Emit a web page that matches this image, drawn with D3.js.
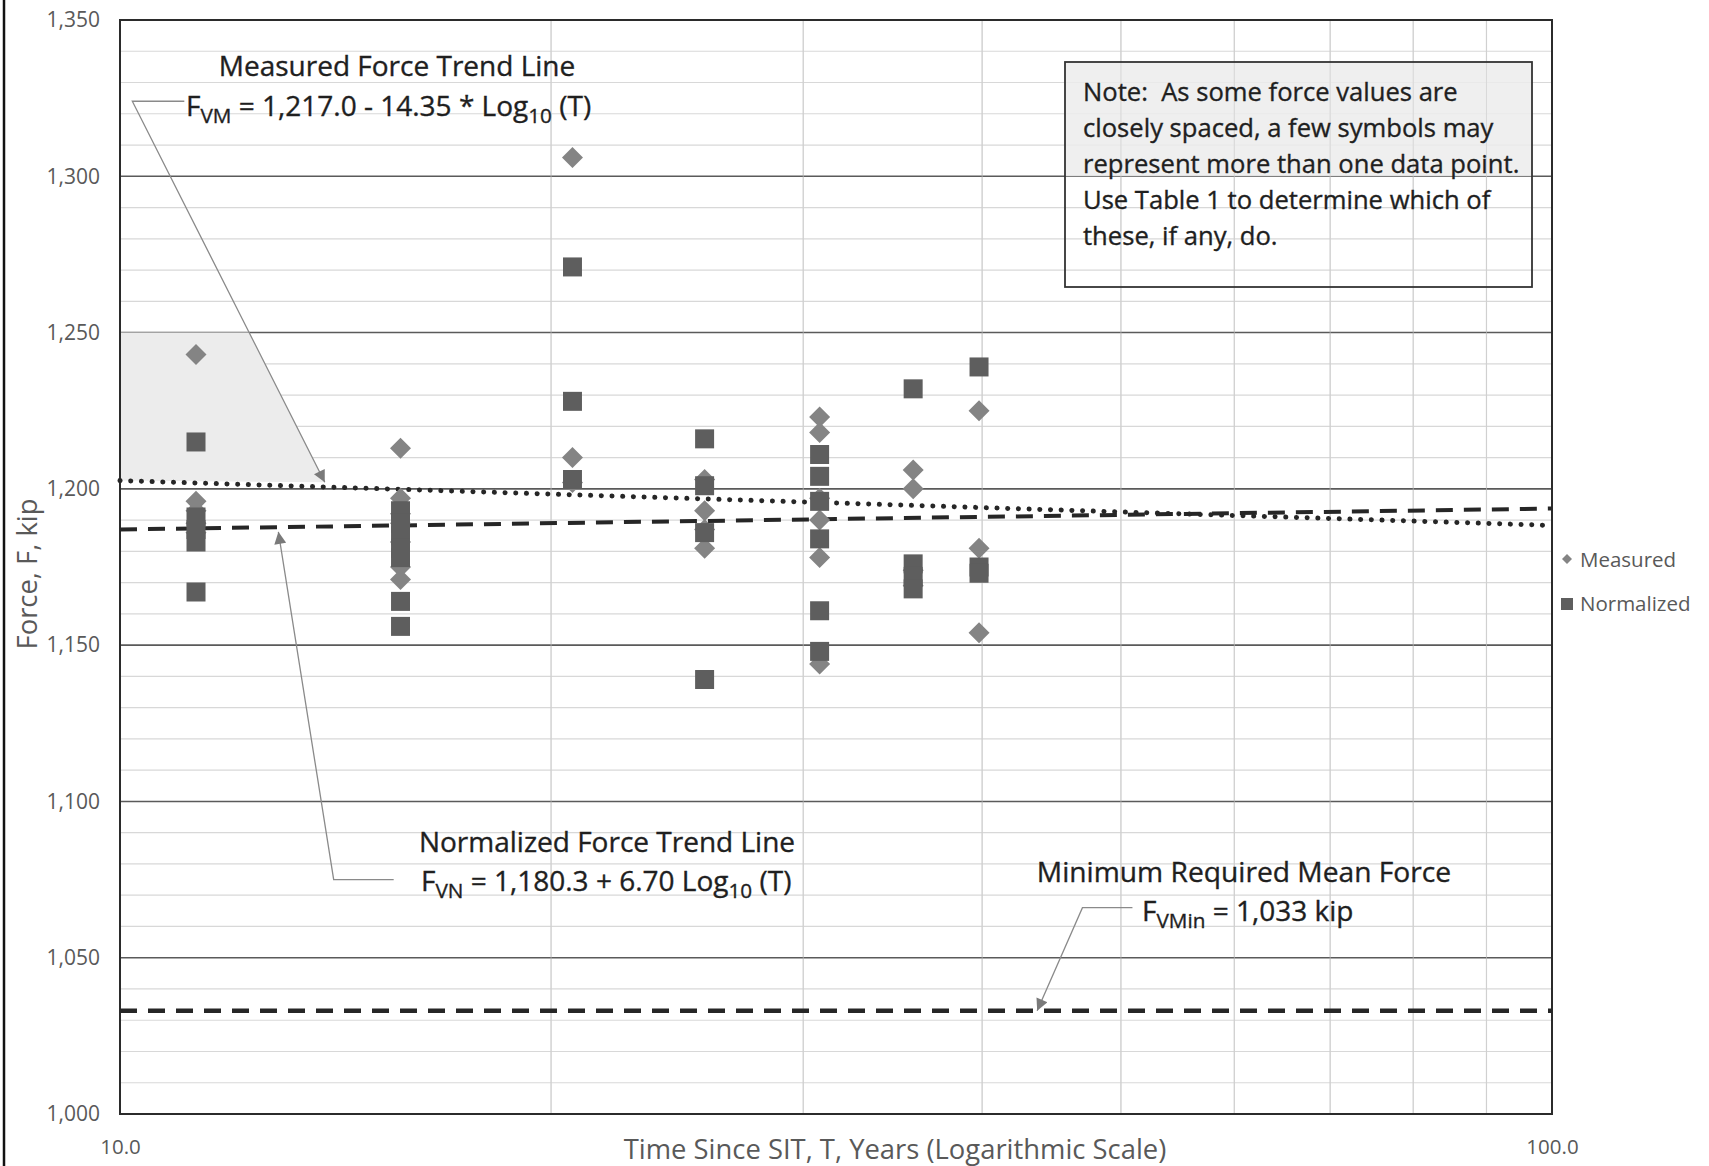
<!DOCTYPE html>
<html>
<head>
<meta charset="utf-8">
<script src="https://cdn.jsdelivr.net/npm/d3@7"></script>
<style>
  body { margin: 0; background: #fff; }
  svg { display: block; }
  text { font-family: "Open Sans", Lato, sans-serif; white-space: pre; }
  .ann { stroke: #1f1f1f; stroke-width: 0.35px; }
</style>
</head>
<body>
<svg id="chart" width="1709" height="1166"></svg>
<script>
// Inspection times, years since SIT
const inspectionYears = [11.3, 15.7, 20.7, 25.6, 30.8, 35.8, 39.8];

// Lift-off forces (kip) at each inspection
const measuredForce = [
  [1243, 1196, 1193, 1189, 1186],
  [1213, 1197, 1192, 1189, 1183, 1175, 1171],
  [1306, 1210, 1202],
  [1203, 1193, 1187, 1181],
  [1223, 1218, 1197, 1190, 1178, 1144],
  [1206, 1200, 1174, 1169],
  [1225, 1181, 1154]
];
const normalizedForce = [
  [1215, 1191, 1187, 1183, 1167],
  [1193, 1189, 1185, 1181, 1178, 1164, 1156],
  [1271, 1228, 1203],
  [1216, 1201, 1186, 1139],
  [1211, 1204, 1196, 1184, 1161, 1148],
  [1232, 1176, 1172, 1168],
  [1239, 1175, 1173]
];

const yTickValues = [1000, 1050, 1100, 1150, 1200, 1250, 1300, 1350];
const xTickValues = [10, 100];
const xTickLabels = ["10.0", "100.0"];
const xMinorGrid = [20, 30, 40, 50, 60, 70, 80, 90];

// Trend lines: F = a + b * log10(T)
const measuredTrend = { a: 1217.0, b: -14.35 };
const normalizedTrend = { a: 1180.3, b: 6.70 };
const minRequiredForce = 1033;

const noteLines = [
  "Note:  As some force values are",
  "closely spaced, a few symbols may",
  "represent more than one data point.",
  "Use Table 1 to determine which of",
  "these, if any, do."
];

const svg = d3.select("#chart");
const plot = { left: 120, right: 1552, top: 20, bottom: 1114 };

const x = d3.scaleLog().domain([10, 100]).range([plot.left, plot.right]);
const y = d3.scaleLinear().domain([1000, 1350]).range([plot.bottom, plot.top]);
const trend = (t, p) => p.a + p.b * Math.log10(t);

const ink = "#1f1f1f";
const axisGrey = "#595959";

// page edge rule
svg.append("line").attr("x1", 4).attr("x2", 4).attr("y1", 0).attr("y2", 1166)
  .attr("stroke", "#111").attr("stroke-width", 2.5);

// arrowhead for callout leaders
const defs = svg.append("defs");
defs.append("marker").attr("id", "arrow").attr("viewBox", "0 0 10 10")
  .attr("refX", 10).attr("refY", 5).attr("markerWidth", 15).attr("markerHeight", 12)
  .attr("markerUnits", "userSpaceOnUse").attr("orient", "auto")
  .append("path").attr("d", "M0,0 L10,5 L0,10 Z").attr("fill", "#7a7a7a");

// grid
const grid = svg.append("g");
const minorY = d3.range(1000, 1351, 10).filter(v => v % 50 !== 0);
grid.selectAll(".hminor").data(minorY).join("line")
  .attr("x1", plot.left).attr("x2", plot.right)
  .attr("y1", d => y(d)).attr("y2", d => y(d))
  .attr("stroke", "#d8d8d8").attr("stroke-width", 1.2);
grid.selectAll(".vminor").data(xMinorGrid).join("line")
  .attr("x1", d => x(d)).attr("x2", d => x(d))
  .attr("y1", plot.top).attr("y2", plot.bottom)
  .attr("stroke", "#d2d2d2").attr("stroke-width", 1.2);

// shaded callout area for the measured trend line
const mElbow = [x(10.2), y(1324)];
const mTip = [x(13.9), y(trend(13.9, measuredTrend) + 1.5)];
const tTop = (y(1250) - mElbow[1]) / (mTip[1] - mElbow[1]);
const mCross = mElbow[0] + tTop * (mTip[0] - mElbow[0]);
svg.append("path")
  .attr("d", `M${plot.left},${y(1250)} L${mCross},${y(1250)} L${mTip[0]},${mTip[1]} L${plot.left},${y(trend(10, measuredTrend))} Z`)
  .attr("fill", "#ececec");

// note box shading (upper part)
const note = { x0: 1065, y0: 62, x1: 1532, y1: 287 };
svg.append("rect").attr("x", note.x0).attr("y", note.y0)
  .attr("width", note.x1 - note.x0).attr("height", y(1300) - note.y0)
  .attr("fill", "#ececec").attr("opacity", 0.85);

// major horizontal grid
grid.selectAll(".hmajor").data(yTickValues.slice(1, -1)).join("line")
  .attr("x1", plot.left).attr("x2", plot.right)
  .attr("y1", d => y(d)).attr("y2", d => y(d))
  .attr("stroke", "#5a5a5a").attr("stroke-width", 1.6);
// minor verticals stay visible across the shaded areas
svg.append("g").selectAll("line").data(xMinorGrid).join("line")
  .attr("x1", d => x(d)).attr("x2", d => x(d))
  .attr("y1", plot.top).attr("y2", plot.bottom)
  .attr("stroke", "#cfcfcf").attr("stroke-width", 1).attr("opacity", 0.6);

// plot frame
svg.append("rect").attr("x", plot.left).attr("y", plot.top)
  .attr("width", plot.right - plot.left).attr("height", plot.bottom - plot.top)
  .attr("fill", "none").attr("stroke", "#2b2b2b").attr("stroke-width", 2);

// axes labels
const yAxis = d3.axisLeft(y).tickValues(yTickValues).tickFormat(d3.format(",")).tickSize(0).tickPadding(20);
const gy = svg.append("g").attr("transform", `translate(${plot.left},0)`).call(yAxis);
gy.select(".domain").remove();
gy.selectAll("text").attr("font-size", 21).attr("fill", axisGrey)
  .style("font-family", "'Open Sans', sans-serif");

const xAxis = d3.axisBottom(x).tickValues(xTickValues)
  .tickFormat((d, i) => xTickLabels[i]).tickSize(0).tickPadding(25);
const gx = svg.append("g").attr("transform", `translate(0,${plot.bottom})`).call(xAxis);
gx.select(".domain").remove();
gx.selectAll("text").attr("font-size", 20.5).attr("fill", axisGrey)
  .style("font-family", "'Open Sans', sans-serif");

svg.append("text").attr("x", 895).attr("y", 1159).attr("text-anchor", "middle")
  .attr("font-size", 27.4).attr("fill", axisGrey)
  .text("Time Since SIT, T, Years (Logarithmic Scale)");
svg.append("text").attr("transform", "translate(37,574) rotate(-90)")
  .attr("text-anchor", "middle").attr("font-size", 27.4).attr("fill", axisGrey)
  .text("Force, F, kip");

// trend lines
const line = d3.line().x(d => x(d[0])).y(d => y(d[1]));
svg.append("path")
  .attr("d", line([10, 100].map(t => [t, trend(t, normalizedTrend)])))
  .attr("fill", "none").attr("stroke", "#262626").attr("stroke-width", 4)
  .attr("stroke-dasharray", "17 11");
svg.append("path")
  .attr("d", line([10, 100].map(t => [t, trend(t, measuredTrend)])))
  .attr("fill", "none").attr("stroke", "#262626").attr("stroke-width", 5)
  .attr("stroke-linecap", "round").attr("stroke-dasharray", "0.1 10.6");
svg.append("path")
  .attr("d", line([[10, minRequiredForce], [100, minRequiredForce]]))
  .attr("fill", "none").attr("stroke", "#262626").attr("stroke-width", 4.5)
  .attr("stroke-dasharray", "17 11");

// data points
const flat = (arr) => arr.flatMap((vals, i) => vals.map(v => [inspectionYears[i], v]));
const diamond = r => `M0,${-r} L${r},0 L0,${r} L${-r},0 Z`;
svg.append("g").selectAll("path").data(flat(measuredForce)).join("path")
  .attr("transform", d => `translate(${x(d[0])},${y(d[1])})`)
  .attr("d", diamond(10.5)).attr("fill", "#848484");
svg.append("g").selectAll("path").data(flat(normalizedForce)).join("path")
  .attr("transform", d => `translate(${x(d[0])},${y(d[1])})`)
  .attr("d", d3.symbol(d3.symbolSquare, 19 * 19)()).attr("fill", "#5e5e5e");

// callout leaders
const leader = (pts) => svg.append("path").attr("d", d3.line()(pts))
  .attr("fill", "none").attr("stroke", "#8a8a8a").attr("stroke-width", 1.3)
  .attr("marker-end", "url(#arrow)");
leader([[mElbow[0] + 52, mElbow[1]], mElbow, mTip]);

const nElbow = [x(14.1), y(1075)];
const nTip = [x(12.9), y(trend(12.9, normalizedTrend) - 1.5)];
leader([[nElbow[0] + 60, nElbow[1]], nElbow, nTip]);

const minElbow = [x(47.0), y(1066)];
const minTip = [x(43.7), y(minRequiredForce)];
leader([[minElbow[0] + 50, minElbow[1]], minElbow, minTip]);

// annotation text with subscripts
function eqText(xp, yp, parts, size, anchor) {
  const t = svg.append("text").attr("class", "ann").attr("x", xp).attr("y", yp).attr("font-size", size)
    .attr("fill", ink).attr("text-anchor", anchor || "start");
  let shift = 0;
  parts.forEach(p => {
    const sub = typeof p === "object";
    const dy = sub ? 7 - shift : -shift;
    shift = sub ? 7 : 0;
    t.append("tspan").attr("dy", dy).attr("font-size", sub ? size * 0.74 : size)
      .text(sub ? p.sub : p);
  });
  return t;
}
function titleText(xp, yp, str, size) {
  return svg.append("text").attr("class", "ann").attr("x", xp).attr("y", yp)
    .attr("text-anchor", "middle").attr("font-size", size).attr("fill", ink).text(str);
}

titleText(397, 76, "Measured Force Trend Line", 28);
eqText(186, 116, ["F", { sub: "VM" }, " = 1,217.0 - 14.35 * Log", { sub: "10" }, " (T)"], 28);

titleText(607, 852, "Normalized Force Trend Line", 28);
eqText(421, 891, ["F", { sub: "VN" }, " = 1,180.3 + 6.70 Log", { sub: "10" }, " (T)"], 28);

titleText(1244, 882, "Minimum Required Mean Force", 28.2);
eqText(1142, 921, ["F", { sub: "VMin" }, " = 1,033 kip"], 28);

// note box
svg.append("rect").attr("x", note.x0).attr("y", note.y0)
  .attr("width", note.x1 - note.x0).attr("height", note.y1 - note.y0)
  .attr("fill", "none").attr("stroke", "#333").attr("stroke-width", 1.8);
svg.append("g").selectAll("text").data(noteLines).join("text")
  .attr("class", "ann")
  .attr("x", 1083).attr("y", (d, i) => 101 + i * 36)
  .attr("font-size", 25.6).attr("fill", ink).text(d => d);

// legend
const legend = svg.append("g");
legend.append("path").attr("transform", "translate(1567,559)").attr("d", diamond(5)).attr("fill", "#848484");
legend.append("text").attr("x", 1580).attr("y", 567).attr("font-size", 20.5).attr("fill", axisGrey).text("Measured");
legend.append("path").attr("transform", "translate(1567,604)")
  .attr("d", d3.symbol(d3.symbolSquare, 12 * 12)()).attr("fill", "#5e5e5e");
legend.append("text").attr("x", 1580).attr("y", 611).attr("font-size", 20.5).attr("fill", axisGrey).text("Normalized");
</script>
</body>
</html>
